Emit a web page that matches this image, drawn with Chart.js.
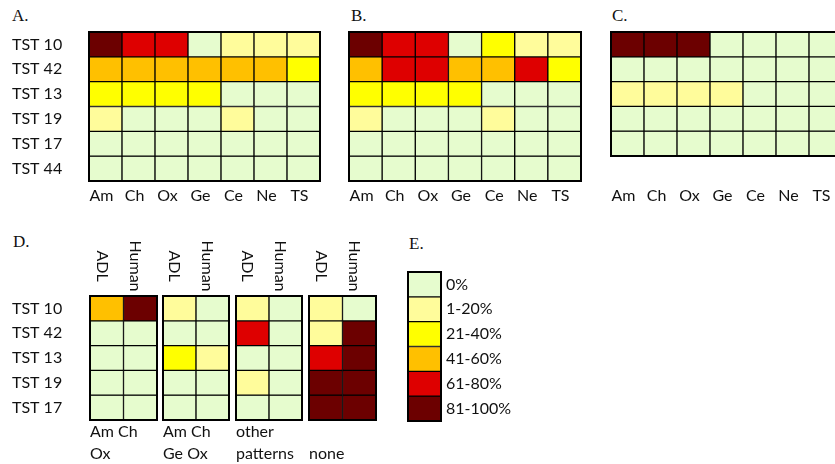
<!DOCTYPE html>
<html lang="en">
<head>
<meta charset="UTF-8">
<title>Strain response heatmaps</title>
<script src="https://cdn.jsdelivr.net/npm/chart.js@4.4.0/dist/chart.umd.min.js"></script>
<style>
  html, body { margin: 0; padding: 0; background: #fff; overflow: hidden; }
  #page { position: relative; width: 835px; height: 464px; overflow: hidden; }
  #page canvas { position: absolute; }
  .tag { position: absolute; font: 17px/17px "Liberation Serif", serif; color: #111; }
</style>
</head>
<body>
<div id="page">
  <div class="tag" style="left:12px;top:7px">A.</div>
  <div class="tag" style="left:351px;top:7px">B.</div>
  <div class="tag" style="left:612px;top:7px">C.</div>
  <div class="tag" style="left:13px;top:233px">D.</div>
  <div class="tag" style="left:409px;top:235px">E.</div>
</div>
<script>
// colour classes (legend E)
const levels = ['0%', '1-20%', '21-40%', '41-60%', '61-80%', '81-100%'];
const levelColors = ['#E6FCCE', '#FFFC9B', '#FFFF00', '#FFC000', '#DE0000', '#6C0000'];
const levelIndex = [0, 1, 2, 3, 4, 5];

const compounds = ['Am', 'Ch', 'Ox', 'Ge', 'Ce', 'Ne', 'TS'];
const strains6 = ['TST 10', 'TST 42', 'TST 13', 'TST 19', 'TST 17', 'TST 44'];
const strains5 = ['TST 10', 'TST 42', 'TST 13', 'TST 19', 'TST 17'];

// class index per strain (row) and compound (column)
const panelA = [
  [5, 4, 4, 0, 1, 1, 1],
  [3, 3, 3, 3, 3, 3, 2],
  [2, 2, 2, 2, 0, 0, 0],
  [1, 0, 0, 0, 1, 0, 0],
  [0, 0, 0, 0, 0, 0, 0],
  [0, 0, 0, 0, 0, 0, 0]
];
const panelB = [
  [5, 4, 4, 0, 2, 1, 1],
  [3, 4, 4, 3, 3, 4, 2],
  [2, 2, 2, 2, 0, 0, 0],
  [1, 0, 0, 0, 1, 0, 0],
  [0, 0, 0, 0, 0, 0, 0],
  [0, 0, 0, 0, 0, 0, 0]
];
const panelC = [
  [5, 5, 5, 0, 0, 0, 0],
  [0, 0, 0, 0, 0, 0, 0],
  [1, 1, 1, 1, 0, 0, 0],
  [0, 0, 0, 0, 0, 0, 0],
  [0, 0, 0, 0, 0, 0, 0]
];

// panel D: per pattern group, rows = strains, cols = ADL / Human
const sources = ['ADL', 'Human'];
const patterns = [['Am Ch', 'Ox'], ['Am Ch', 'Ge Ox'], ['other', 'patterns'], ['', 'none']];
const panelD = [
  [[3, 5], [0, 0], [0, 0], [0, 0], [0, 0]],
  [[1, 0], [0, 0], [2, 1], [0, 0], [0, 0]],
  [[1, 0], [4, 0], [0, 0], [1, 0], [0, 0]],
  [[1, 0], [1, 5], [4, 5], [5, 5], [5, 5]]
];

Chart.defaults.font.family = 'Lato';
Chart.defaults.color = '#111';

const PAD = 2;
const FONT = { family: 'Lato', size: 16 };

const frame = {
  id: 'frame',
  afterDatasetsDraw(chart) {
    const { ctx, chartArea: a } = chart;
    ctx.save();
    ctx.lineWidth = 2;
    ctx.strokeStyle = '#000';
    ctx.strokeRect(a.left, a.top, a.width, a.height);
    ctx.restore();
  }
};

// rotated column headers (ADL / Human), reading top to bottom
const headers = {
  id: 'headers',
  afterDraw(chart) {
    const { ctx, chartArea } = chart;
    const x = chart.scales.x;
    ctx.save();
    ctx.font = '16px Lato';
    ctx.fillStyle = '#111';
    ctx.textAlign = 'center';
    ctx.textBaseline = 'middle';
    chart.data.labels.forEach((lab, i) => {
      ctx.save();
      ctx.translate(x.getPixelForValue(i) - 5, chartArea.top - 30);
      ctx.rotate(Math.PI / 2);
      ctx.fillText(lab, 0, 0);
      ctx.restore();
    });
    ctx.restore();
  }
};

// fixed axis size, no overhang padding from the labels
function fixSize(s, w, h) {
  if (w !== null) s.width = w;
  if (h !== null) s.height = h;
  s.paddingLeft = s.paddingRight = s.paddingTop = s.paddingBottom = 0;
}

function heatmap(box, rows, cols, grid, opt) {
  const yW = opt.yW || 0, rW = opt.rW || 0, topH = opt.topH || 0, botH = opt.botH || 0;
  const cv = document.createElement('canvas');
  cv.width = yW + box.w + rW + 2 * PAD;
  cv.height = topH + box.h + botH + 2 * PAD;
  cv.style.left = (box.x - yW - PAD) + 'px';
  cv.style.top = (box.y - topH - PAD) + 'px';
  document.getElementById('page').appendChild(cv);

  const datasets = rows.map((r, i) => ({
    label: r,
    data: cols.map(() => 1),
    backgroundColor: grid[i].map(v => levelColors[v]),
    borderColor: '#000',
    borderWidth: 1,
    borderSkipped: false,
    barPercentage: 1,
    categoryPercentage: 1,
    xAxisID: 'x',
    yAxisID: 'y'
  }));

  const scales = {
    x: {
      type: 'category',
      stacked: true,
      position: opt.top ? 'top' : 'bottom',
      display: !opt.hideX,
      grid: { display: false, drawTicks: false },
      border: { display: false },
      ticks: { display: !opt.top, font: FONT, color: '#111', padding: opt.tickPad || 5,
               labelOffset: -4, maxRotation: 0, autoSkip: false },
      afterFit: s => fixSize(s, null, opt.top ? topH : botH)
    },
    y: {
      type: 'linear',
      stacked: true,
      reverse: true,
      min: 0,
      max: rows.length,
      display: !!(yW || rW),
      position: rW ? 'right' : 'left',
      grid: { display: false, drawTicks: false },
      border: { display: false },
      afterBuildTicks: s => { s.ticks = rows.map((r, i) => ({ value: i + 0.5 })); },
      afterFit: s => fixSize(s, yW || rW, null),
      ticks: { autoSkip: false, font: FONT, color: '#111', padding: 5,
               crossAlign: rW ? 'near' : 'far', callback: (v, i) => rows[i] }
    }
  };
  if (opt.caption) {
    scales.xb = {
      type: 'category',
      position: 'bottom',
      grid: { display: false, drawTicks: false },
      border: { display: false },
      ticks: { display: false },
      title: { display: true, text: opt.caption, align: 'start', color: '#111', padding: 0,
               font: { family: 'Lato', size: 16, lineHeight: 1.33 } },
      afterFit: s => fixSize(s, null, botH)
    };
  }

  new Chart(cv, {
    type: 'bar',
    data: { labels: cols, datasets },
    options: {
      responsive: false,
      animation: false,
      layout: { padding: PAD },
      plugins: { legend: { display: false }, tooltip: { enabled: false } },
      scales
    },
    plugins: opt.top ? [frame, headers] : [frame]
  });
}

// A, B, C
heatmap({ x: 89, y: 32, w: 231, h: 149 }, strains6, compounds, panelA, { yW: 77, botH: 30, tickPad: 5 });
heatmap({ x: 349, y: 32, w: 232, h: 149 }, strains6, compounds, panelB, { botH: 30, tickPad: 5 });
heatmap({ x: 611, y: 32, w: 231, h: 124 }, strains5, compounds, panelC, { botH: 55, tickPad: 30 });

// D
panelD.forEach((g, i) => {
  heatmap({ x: [90, 163, 236, 309][i], y: 296, w: [67, 66, 66, 67][i], h: 124 }, strains5, sources, g,
          { yW: i === 0 ? 78 : 0, top: true, topH: 56, botH: 44, caption: patterns[i] });
});

// E legend
heatmap({ x: 408, y: 272, w: 33, h: 149 }, levels, [''], levelIndex.map(v => [v]), { rW: 80, hideX: true });
</script>
</body>
</html>
